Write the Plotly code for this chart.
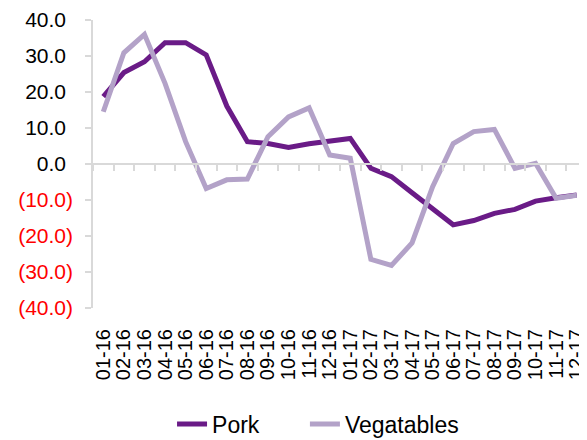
import plotly.graph_objects as go

categories = ["01-16", "02-16", "03-16", "04-16", "05-16", "06-16", "07-16", "08-16",
              "09-16", "10-16", "11-16", "12-16", "01-17", "02-17", "03-17", "04-17",
              "05-17", "06-17", "07-17", "08-17", "09-17", "10-17", "11-17", "12-17"]
pork = [18.7, 25.4, 28.4, 33.7, 33.7, 30.3, 16.1, 6.2, 5.7, 4.6, 5.6, 6.2,
        7.1, -1.2, -3.5, -8.0, -12.3, -16.9, -15.7, -13.7, -12.6, -10.3, -9.4, -8.6]
vegetables = [14.5, 30.9, 36.0, 22.4, 6.2, -6.8, -4.4, -4.2, 7.6, 13.1, 15.6, 2.5,
              1.6, -26.5, -28.2, -21.9, -6.3, 5.7, 9.0, 9.6, -1.2, 0.2, -9.5, -8.7]
y_ticks = [40, 30, 20, 10, 0, -10, -20, -30, -40]

FONT = "Liberation Sans, Arial, sans-serif"
GRAY = "#D9D9D9"


def fmt(v):
    if v < 0:
        return '<span style="color:#FF0000">(%.1f)</span>' % abs(v)
    return '%.1f<span style="color:rgba(0,0,0,0)">)</span>' % v


fig = go.Figure()
fig.add_trace(go.Scatter(x=categories, y=pork, name="Pork", mode="lines",
                         line=dict(color="#6A1B87", width=5), legend="legend"))
fig.add_trace(go.Scatter(x=categories, y=vegetables, name="Vegatables", mode="lines",
                         line=dict(color="#B3A2C8", width=5), legend="legend2"))
# empty helper trace so the category-boundary axis at y=0 is rendered
fig.add_trace(go.Scatter(x=[], y=[], xaxis="x2", yaxis="y", showlegend=False,
                         hoverinfo="skip"))

n = len(categories)
boundaries = [i - 0.5 for i in range(n + 1)]

legend_style = dict(orientation="h", xanchor="left", y=-0.403, yanchor="middle",
                    font=dict(size=23, family=FONT, color="black"))

# page body has an 8px margin, so the figure is 8px smaller than the window
fig.update_layout(
    width=579, height=432,
    margin=dict(l=85, r=0, t=12, b=132, autoexpand=False),
    paper_bgcolor="white", plot_bgcolor="white",
    font=dict(family=FONT, color="black", size=20),
    showlegend=True,
    legend=dict(x=0.16, **legend_style),
    legend2=dict(x=0.429, **legend_style),
    xaxis=dict(type="category", range=[-0.5, n - 0.5], showline=False, showgrid=False,
               zeroline=False, ticks="", tickangle=-90, ticklabelstandoff=16,
               tickmode="array", tickvals=categories, ticktext=categories,
               tickfont=dict(size=20)),
    xaxis2=dict(type="linear", overlaying="x", anchor="free", position=0.5,
                range=[-0.5, n - 0.5], showline=True, linecolor=GRAY, linewidth=2,
                ticks="outside", ticklen=6, tickcolor=GRAY, tickwidth=1.5,
                tickmode="array", tickvals=boundaries, showticklabels=False,
                showgrid=False, zeroline=False),
    yaxis=dict(range=[-40, 40], showline=True, linecolor=GRAY, linewidth=1.5,
               ticks="outside", ticklen=6, tickcolor=GRAY, tickwidth=1.5,
               tickmode="array", tickvals=y_ticks, ticktext=[fmt(v) for v in y_ticks],
               showgrid=False, zeroline=False, tickfont=dict(size=21),
               ticklabelstandoff=8),
)

fig.write_html("out.html")
